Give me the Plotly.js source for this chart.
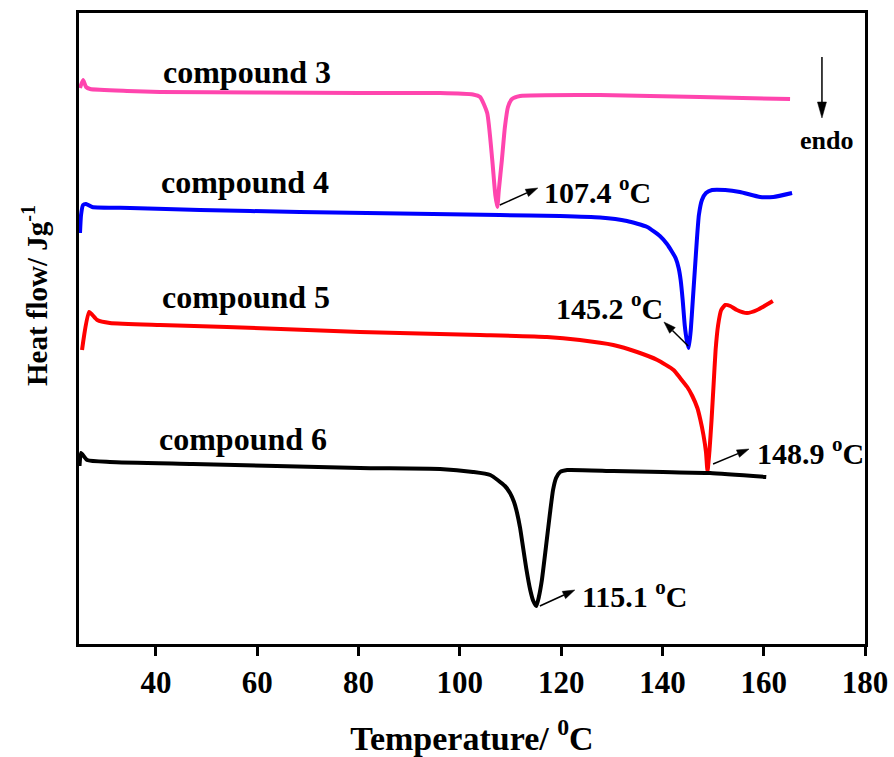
<!DOCTYPE html>
<html>
<head>
<meta charset="utf-8">
<script src="https://cdn.plot.ly/plotly-3.0.1.min.js"></script>
<style>html,body{margin:0;padding:0;background:#fff;}</style>
</head>
<body>
<div id="chart" style="width:894px;height:757px;"></div>
<script>
// Temperature (°C) and heat flow (arbitrary units, curves offset vertically)
const c3T = [25.0, 25.6, 26.2, 27.0, 34.3, 40.8, 60.5, 80.3, 96.1, 102.6, 104.0, 105.4, 106.4, 107.0, 107.4, 107.7, 108.3, 108.9, 109.5, 110.3, 111.9, 127.7, 147.4, 165.2];
const c3Y = [556, 564, 557, 555, 553, 552, 551.5, 551, 551, 549.5, 547, 531, 484, 449, 437, 454, 484, 517, 537, 545, 548, 549, 547, 545];

const c4T = [25.0, 25.2, 25.6, 26.2, 27.4, 34.9, 48.7, 68.4, 88.2, 107.9, 119.8, 127.7, 133.0, 137.0, 139.5, 140.9, 141.8, 142.6, 143.2, 143.6, 144.0, 144.4, 144.8, 145.2, 145.6, 146.0, 146.4, 146.8, 147.2, 147.8, 148.6, 149.8, 152.4, 155.3, 159.3, 161.9, 165.6];
const c4Y = [411, 429, 439, 440, 437, 436, 434, 432, 430.5, 429, 428, 426.5, 423, 417, 408, 400, 393, 386, 376, 364, 344, 319, 304, 296, 314, 344, 374, 404, 429, 444, 451, 454, 454, 452, 447, 447, 451];

const c5T = [25.4, 26.8, 28.4, 30.9, 40.8, 54.0, 80.3, 104.0, 117.2, 123.7, 130.3, 135.0, 139.0, 142.2, 143.5, 144.9, 145.9, 146.9, 147.5, 148.1, 148.6, 148.9, 149.3, 149.7, 150.1, 150.5, 151.0, 151.6, 152.4, 153.4, 154.7, 156.7, 158.7, 161.8];
const c5Y = [294, 332, 324, 321, 319, 317, 312, 309, 307, 304, 299, 292, 284, 274, 266, 257, 248, 236, 224, 209, 192, 173, 194, 224, 259, 294, 319, 334, 339, 338, 334, 331, 334, 343];

const c6T = [24.9, 25.2, 26.4, 30.9, 47.3, 80.3, 96.1, 102.6, 106.0, 108.9, 109.9, 110.7, 111.3, 111.9, 112.5, 113.1, 113.9, 114.5, 115.1, 115.6, 116.2, 117.0, 117.8, 118.4, 119.0, 119.8, 121.2, 130.3, 140.1, 149.4, 160.5];
const c6Y = [178, 191, 184, 182, 180, 176, 175, 172, 169, 158, 151, 142, 131, 116, 96, 76, 54, 43, 38, 47, 64, 97, 131, 154, 166, 172, 174, 173, 172, 171, 167];

const seriesNames = ['compound 3', 'compound 4', 'compound 5', 'compound 6'];
const seriesColors = ['#FF45AE', '#0000FF', '#FF0000', '#000000'];
const peakLabels = ['107.4', '145.2', '148.9', '115.1'];
const xTickVals = [40, 60, 80, 100, 120, 140, 160, 180];

const FONT = 'Liberation Serif, Times New Roman, serif';
const X_RANGE = [24.8, 180], Y_RANGE = [0, 631];
const PLOT_W = 894 - 79 - 29, PLOT_H = 757 - 13 - 113;
const KX = PLOT_W / (X_RANGE[1] - X_RANGE[0]);   // px per °C
const KY = PLOT_H / (Y_RANGE[1] - Y_RANGE[0]);   // px per unit

const xs = [c3T, c4T, c5T, c6T];
const ys = [c3Y, c4Y, c5Y, c6Y];

const traces = xs.map((x, i) => ({
  x: x, y: ys[i], type: 'scatter', mode: 'lines', name: seriesNames[i],
  line: {color: seriesColors[i], width: 4, shape: 'spline', smoothing: 0.5},
  hoverinfo: 'skip'
}));

function label(text, x, y, size, xanchor) {
  return {text: text, x: x, y: y, xref: 'x', yref: 'y', showarrow: false,
    xanchor: xanchor || 'center', yanchor: 'middle',
    font: {family: FONT, size: size, color: '#000', weight: 'bold'}};
}
// arrow as a line shape plus a filled triangular head (head at x1,y1)
function arrowShapes(x0, y0, x1, y1, len, half) {
  const dxp = (x1 - x0) * KX, dyp = (y1 - y0) * KY;
  const L = Math.hypot(dxp, dyp), ux = dxp / L, uy = dyp / L;
  const bx = x1 - ux * len / KX, by = y1 - uy * len / KY;
  const px = -uy, py = ux;
  const p1 = [bx + px * half / KX, by + py * half / KY];
  const p2 = [bx - px * half / KX, by - py * half / KY];
  return [
    {type: 'line', xref: 'x', yref: 'y', x0: x0, y0: y0, x1: bx, y1: by,
     line: {color: '#000', width: 1.5}},
    {type: 'path', xref: 'x', yref: 'y',
     path: `M ${x1} ${y1} L ${p1[0]} ${p1[1]} L ${p2[0]} ${p2[1]} Z`,
     fillcolor: '#000', line: {color: '#000', width: 0.5}}
  ];
}

const shapes = [].concat(
  arrowShapes(107.9, 439, 115.4, 456, 12, 4),
  arrowShapes(145.1, 298, 140.3, 322, 12, 4),
  arrowShapes(150.0, 180, 157.1, 195, 12, 4),
  arrowShapes(115.8, 38, 122.7, 54, 12, 4),
  arrowShapes(171.5, 587, 171.5, 526, 16, 4.5)
);

const annotations = [
  label(seriesNames[0], 58.0, 572, 32),
  label(seriesNames[1], 57.6, 462, 32),
  label(seriesNames[2], 57.8, 347, 32),
  label(seriesNames[3], 57.2, 205, 32),
  label(peakLabels[0] + ' <sup>o</sup>C', 116.2, 454, 30, 'left'),
  label(peakLabels[1] + ' <sup>o</sup>C', 140.5, 338, 30, 'right'),
  label(peakLabels[2] + ' <sup>o</sup>C', 158.3, 193, 30, 'left'),
  label(peakLabels[3] + ' <sup>o</sup>C', 123.7, 50, 30, 'left'),
  label('endo', 172.3, 504, 26),
  {text: 'Heat flow/ Jg<sup>-1</sup>', xref: 'paper', yref: 'paper', x: -0.056, y: 0.553,
   showarrow: false, textangle: -90, xanchor: 'center', yanchor: 'middle',
   font: {family: FONT, size: 29, color: '#000', weight: 'bold'}}
];

const layout = {
  width: 894, height: 757,
  margin: {l: 79, r: 29, t: 13, b: 113},
  paper_bgcolor: '#fff', plot_bgcolor: '#fff',
  showlegend: false,
  xaxis: {
    range: X_RANGE, tickvals: xTickVals, ticktext: xTickVals.map(String),
    showgrid: false, zeroline: false,
    showline: true, mirror: true, linewidth: 3, linecolor: '#000',
    ticks: 'outside', ticklen: 9, tickwidth: 3, tickcolor: '#000',
    tickfont: {family: FONT, size: 31, color: '#000', weight: 'bold'},
    title: {text: 'Temperature/ <sup>0</sup>C', standoff: 27,
      font: {family: FONT, size: 34, color: '#000', weight: 'bold'}}
  },
  yaxis: {
    range: Y_RANGE, showgrid: false, zeroline: false,
    showline: true, mirror: true, linewidth: 3, linecolor: '#000',
    ticks: '', showticklabels: false
  },
  shapes: shapes,
  annotations: annotations
};

Plotly.newPlot('chart', traces, layout, {staticPlot: true, displayModeBar: false});
</script>
</body>
</html>
